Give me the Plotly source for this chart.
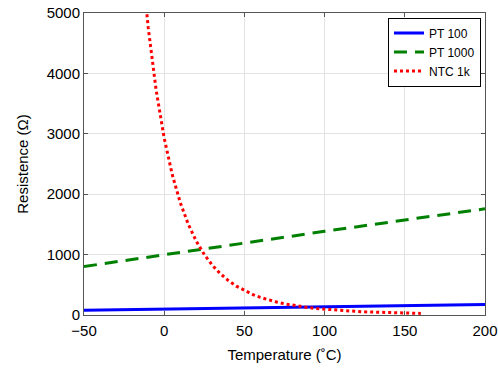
import plotly.graph_objects as go

# Temperature points (°C)
temp_pt = [-50, 0, 50, 100, 150, 200]
pt100 = [80.3, 100.0, 119.4, 138.5, 157.3, 175.8]
pt1000 = [803, 1000, 1194, 1385, 1573, 1758]

temp_ntc = [-15, -10, -5, 0, 5, 10, 15, 20, 25, 30, 35, 40, 45, 50, 55, 60, 65, 70,
            75, 80, 85, 90, 95, 100, 105, 110, 115, 120, 125, 130, 135, 140, 145,
            150, 155, 160]
ntc1k = [6166, 4765, 3718, 2928, 2326, 1862, 1503, 1222, 1000, 824, 683, 570, 478,
         403, 342, 291, 249, 215, 185, 161, 140, 122, 107, 95, 83, 74, 66, 59, 52,
         47, 42, 38, 34, 31, 28, 26]

x_ticks = [-50, 0, 50, 100, 150, 200]
y_ticks = [0, 1000, 2000, 3000, 4000, 5000]

FONT = "Liberation Sans, Arial, sans-serif"

fig = go.Figure()
fig.add_trace(go.Scatter(x=temp_pt, y=pt100, mode="lines", name="PT 100",
                         line=dict(color="#0000ff", width=3)))
fig.add_trace(go.Scatter(x=temp_pt, y=pt1000, mode="lines", name="PT 1000",
                         line=dict(color="#008000", width=3, dash="13px,8px")))
fig.add_trace(go.Scatter(x=temp_ntc, y=ntc1k, mode="lines", name="NTC 1k",
                         line=dict(color="#ff0000", width=3, dash="dot")))

axis_common = dict(showgrid=True, gridcolor="#e3e3e3", gridwidth=1, zeroline=False,
                   showline=True, linecolor="#555555", linewidth=1, mirror="ticks",
                   ticks="inside", ticklen=4, tickcolor="#555555", automargin=False,
                   tickfont=dict(family=FONT, size=15, color="#000000"))

fig.update_xaxes(range=[-50, 200], tickvals=x_ticks, ticklabelstandoff=2,
                 title=dict(text="Temperature (˚C)", font=dict(family=FONT, size=15, color="#000000"), standoff=11),
                 **axis_common)
fig.update_yaxes(range=[0, 5000], tickvals=y_ticks,
                 title=dict(text="Resistence (Ω)", font=dict(family=FONT, size=15, color="#000000"), standoff=14),
                 **axis_common)

fig.update_layout(
    width=498, height=370,
    margin=dict(l=84, r=13, t=13, b=55),
    plot_bgcolor="white", paper_bgcolor="white",
    font=dict(family=FONT, size=13, color="#000000"),
    legend=dict(x=0.99, y=0.985, xanchor="right", yanchor="top",
                bgcolor="white", bordercolor="#000000", borderwidth=1,
                font=dict(family=FONT, size=12, color="#000000"),
                tracegroupgap=0, itemwidth=30),
    showlegend=True,
)

fig.write_html("out.html", config={"displayModeBar": False},
               post_script="document.body.style.margin='0';document.body.style.padding='0';")
